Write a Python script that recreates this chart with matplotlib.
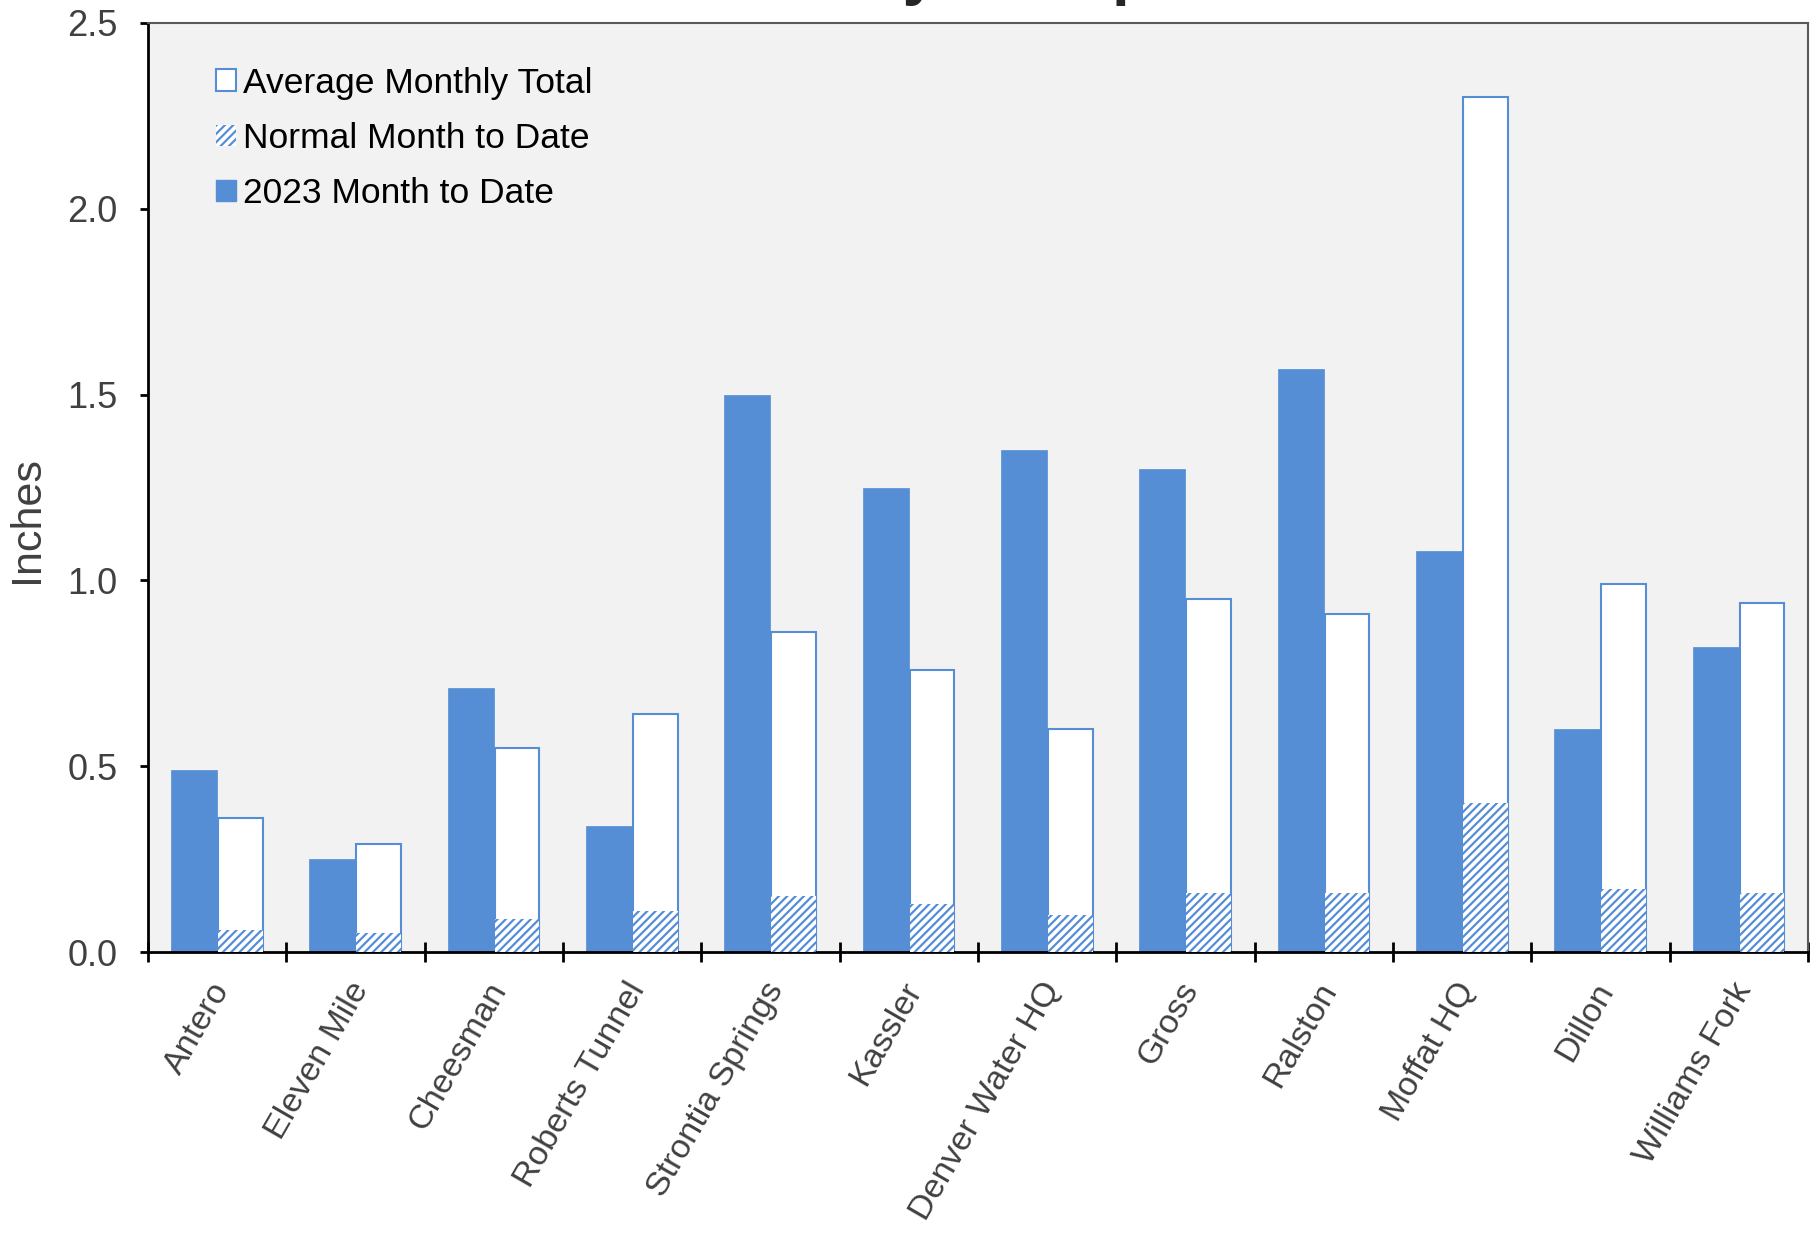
import matplotlib
matplotlib.use("Agg")
import matplotlib.pyplot as plt
import matplotlib.transforms as mtransforms
from matplotlib.patches import Patch
import numpy as np

plt.rcParams['font.family'] = ['Liberation Sans', 'DejaVu Sans']
plt.rcParams['hatch.linewidth'] = 1.6

stations = ["Antero", "Eleven Mile", "Cheesman", "Roberts Tunnel", "Strontia Springs",
            "Kassler", "Denver Water HQ", "Gross", "Ralston", "Moffat HQ", "Dillon",
            "Williams Fork"]
mtd_2023 = [0.49, 0.25, 0.71, 0.34, 1.50, 1.25, 1.35, 1.30, 1.57, 1.08, 0.60, 0.82]
avg_monthly = [0.36, 0.29, 0.55, 0.64, 0.86, 0.76, 0.60, 0.95, 0.91, 2.30, 0.99, 0.94]
normal_mtd = [0.06, 0.05, 0.09, 0.11, 0.15, 0.13, 0.10, 0.16, 0.16, 0.40, 0.17, 0.16]
yticks = [0.0, 0.5, 1.0, 1.5, 2.0, 2.5]

BLUE = '#558ED5'
GRAY_TXT = '#404040'

W, H = 1811, 1235
fig = plt.figure(figsize=(W / 100, H / 100), dpi=100)
ax = fig.add_axes([148 / W, 1 - 952 / H, (1808 - 148) / W, (952 - 23) / H])
ax.set_facecolor('#F2F2F2')

x = np.arange(len(stations))
bw = 1 / 3
ax.bar(x - bw / 2, mtd_2023, width=bw, color=BLUE, edgecolor=BLUE, linewidth=0.5, zorder=2)
ax.bar(x + bw / 2, avg_monthly, width=bw * 0.97, color='white', edgecolor=BLUE, linewidth=1.5, zorder=2)
ax.bar(x + bw / 2, normal_mtd, width=bw * 0.97, color='white', edgecolor=BLUE, linewidth=0.0,
       hatch='////', zorder=3)

ax.set_xlim(-0.5, len(stations) - 0.5)
ax.set_ylim(0, 2.5)
ax.set_yticks(yticks)
ax.set_yticklabels([f"{v:.1f}" for v in yticks])

ax.set_xticks(x)
ax.set_xticklabels(stations, rotation=60, ha='right', va='top')
ax.set_xticks(np.arange(-0.5, len(stations), 1.0), minor=True)
ax.tick_params(axis='x', which='major', length=0, pad=18, labelsize=24.5, labelcolor=GRAY_TXT)
ax.tick_params(axis='x', which='minor', direction='inout', length=14, width=2, color='black')
ax.tick_params(axis='y', which='major', direction='out', length=6, width=2, pad=16,
               labelsize=26, labelcolor=GRAY_TXT, color='black')
offset = mtransforms.ScaledTranslation(19 / 100, 0, fig.dpi_scale_trans)
for lbl in ax.get_xticklabels():
    lbl.set_transform(lbl.get_transform() + offset)

for s in ['left', 'bottom']:
    ax.spines[s].set_color('black')
    ax.spines[s].set_linewidth(2)
for s in ['top', 'right']:
    ax.spines[s].set_color('#595959')
    ax.spines[s].set_linewidth(1.5)

ax.set_ylabel("Inches", fontsize=31, color=GRAY_TXT)
ax.yaxis.set_label_coords(-0.061, 0.465)

handles = [Patch(facecolor='white', edgecolor=BLUE, linewidth=1.5),
           Patch(facecolor='white', edgecolor=BLUE, linewidth=0, hatch='////'),
           Patch(facecolor=BLUE, edgecolor=BLUE)]
labels = ["Average Monthly Total", "Normal Month to Date", "2023 Month to Date"]
ax.legend(handles, labels, loc='upper left', bbox_to_anchor=(0.041, 0.953), frameon=False,
          fontsize=25.5, handlelength=0.55, handleheight=0.55, handletextpad=0.2,
          labelspacing=0.63, borderpad=0, borderaxespad=0)

fig.text(693 / W, 1 + 7 / H, "January Precipitation", fontsize=46, fontweight='bold',
         ha='left', va='baseline', color='#262626')

fig.savefig("out.png", dpi=100, facecolor='white')
